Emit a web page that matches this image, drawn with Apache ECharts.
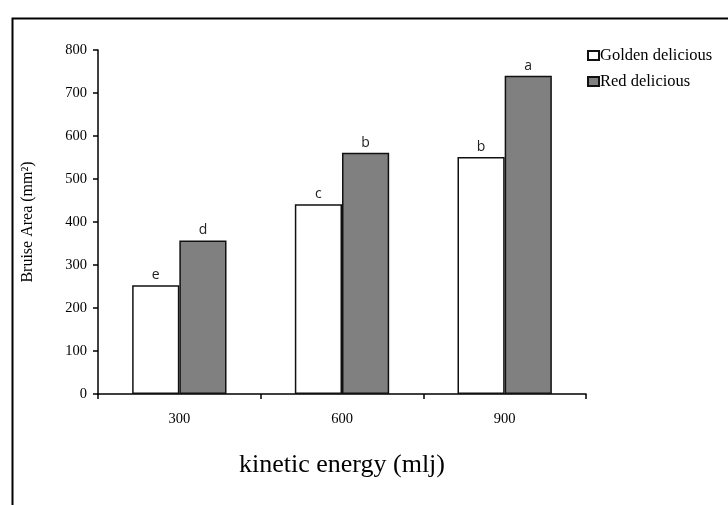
<!DOCTYPE html>
<html><head><meta charset="utf-8">
<script src="https://cdn.jsdelivr.net/npm/echarts@6/dist/echarts.min.js"></script>
<style>html,body{margin:0;padding:0;background:#fff}#c{width:728px;height:505px}</style>
</head><body><div id="c"></div>
<script>
const categories = ['300', '600', '900'];
const golden = [253, 441, 551];
const red = [357, 561, 740];
const goldenLetters = ['e', 'c', 'b'];
const redLetters = ['d', 'b', 'a'];
const yTicks = [0, 100, 200, 300, 400, 500, 600, 700, 800];

const serif = '"Liberation Serif", "Times New Roman", serif';
const sans = '"Open Sans", "DejaVu Sans", sans-serif';
const chart = echarts.init(document.getElementById('c'), null, {renderer: 'canvas'});
const barLabel = (letters) => ({
  show: true, position: 'top', distance: 3,
  formatter: p => letters[p.dataIndex],
  fontFamily: sans, fontSize: 14, color: '#222'
});
chart.setOption({
  animation: false,
  graphic: [{
    type: 'rect', left: 10, top: 16, shape: {width: 760, height: 520},
    style: {fill: 'none', stroke: '#000', lineWidth: 2}, silent: true
  }],
  grid: {left: 98, right: 142, top: 50, bottom: 111, containLabel: false},
  legend: {
    left: 582, top: 42, orient: 'vertical', itemGap: 9,
    itemWidth: 11, itemHeight: 9, icon: 'rect',
    textStyle: {fontFamily: serif, fontSize: 16.5, color: '#000', padding: [0, 0, 0, -4]},
    data: ['Golden delicious', 'Red delicious']
  },
  xAxis: {
    type: 'category', data: categories,
    name: 'kinetic energy (mlj)', nameLocation: 'middle', nameGap: 58,
    nameTextStyle: {fontFamily: serif, fontSize: 26, color: '#000'},
    axisLine: {lineStyle: {color: '#000', width: 1.5}},
    axisTick: {show: true, length: 5, lineStyle: {color: '#000', width: 1.5}},
    axisLabel: {fontFamily: serif, fontSize: 14.5, color: '#000', margin: 18}
  },
  yAxis: {
    type: 'value', min: yTicks[0], max: yTicks[yTicks.length - 1], interval: 100,
    name: 'Bruise Area (mm\u00B2)', nameLocation: 'middle', nameGap: 62,
    nameTextStyle: {fontFamily: serif, fontSize: 16, color: '#000'},
    axisLine: {show: true, lineStyle: {color: '#000', width: 1.5}},
    axisTick: {show: true, length: 5, lineStyle: {color: '#000', width: 1.5}},
    axisLabel: {fontFamily: serif, fontSize: 14.5, color: '#000', margin: 11},
    splitLine: {show: false}
  },
  series: [
    {name: 'Golden delicious', type: 'bar', data: golden, barWidth: '29%', barGap: '0%',
     itemStyle: {color: '#fff', borderColor: '#111', borderWidth: 1.5},
     label: barLabel(goldenLetters)},
    {name: 'Red delicious', type: 'bar', data: red, barWidth: '29%', barGap: '0%',
     itemStyle: {color: '#808080', borderColor: '#111', borderWidth: 1.5},
     label: barLabel(redLetters)}
  ]
});
</script></body></html>
